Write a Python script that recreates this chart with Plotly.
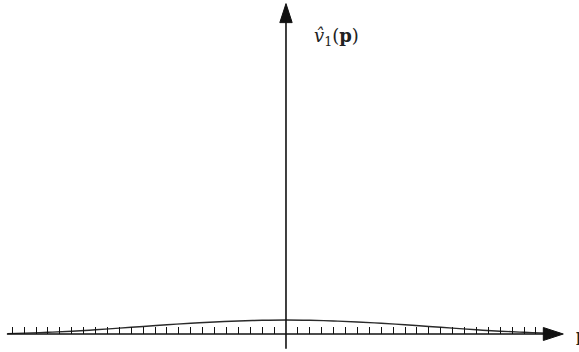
import plotly.graph_objects as go

# curve (x in tick steps, height relative to peak)
curve_x = [-23.4, -22, -20, -18, -16, -14, -12, -10, -8, -6, -4, -2, 0,
           2, 4, 6, 8, 10, 12, 14, 16, 18, 20, 22, 23.0]
curve_y = [0.03, 0.06, 0.12, 0.2, 0.3, 0.42, 0.54, 0.66, 0.77, 0.86, 0.93, 0.98, 1.0,
           0.98, 0.93, 0.86, 0.77, 0.66, 0.54, 0.42, 0.3, 0.2, 0.12, 0.06, 0.04]

# tick marks along the p axis (one per step, none at the origin)
tick_vals = [k for k in range(-23, 22) if k != 0]

x_min, x_max = -24.03, 24.62
y_min, y_max = -1.286, 23.857

ink = "#111111"

fig = go.Figure()

# axis lines
fig.add_shape(type="line", x0=-23.45, x1=22.6, y0=0, y1=0,
              line=dict(color=ink, width=1.6))
fig.add_shape(type="line", x0=0, x1=0, y0=-1.05, y1=22.6,
              line=dict(color=ink, width=1.6))

# curve
fig.add_trace(go.Scatter(x=curve_x, y=curve_y, mode="lines",
                         line=dict(color="#2a2a2a", width=1.4, shape="spline"),
                         hoverinfo="skip"))

# arrow heads
fig.add_trace(go.Scatter(x=[0, 23.3], y=[23.6, 0], mode="markers",
                         marker=dict(symbol="arrow", size=[20, 21], angle=[0, 90],
                                     color=ink, opacity=1,
                                     line=dict(width=1, color=ink)),
                         hoverinfo="skip"))

fig.add_annotation(x=2.2, y=21.2, text="<i>v̂</i><sub>1</sub>(<b>p</b>)",
                   showarrow=False, xanchor="left", yanchor="middle",
                   font=dict(family="DejaVu Serif", size=18, color="#222"))
fig.add_annotation(x=24.2, y=-0.1, text="<b>p</b>",
                   showarrow=False, xanchor="left", yanchor="middle",
                   font=dict(family="DejaVu Serif", size=16, color="#222"))

fig.update_layout(
    width=579, height=352,
    margin=dict(l=0, r=0, t=0, b=0),
    paper_bgcolor="white", plot_bgcolor="white",
    showlegend=False,
    xaxis=dict(range=[x_min, x_max], anchor="free",
               position=(0 - y_min) / (y_max - y_min),
               tickvals=tick_vals, ticks="inside", ticklen=7, tickwidth=1.4,
               tickcolor=ink, showticklabels=False, showgrid=False,
               zeroline=False, showline=False),
    yaxis=dict(range=[y_min, y_max], showticklabels=False, ticks="",
               showgrid=False, zeroline=False, showline=False),
)

fig.write_html("out.html", config={"displayModeBar": False},
               post_script="document.body.style.margin='0';")
